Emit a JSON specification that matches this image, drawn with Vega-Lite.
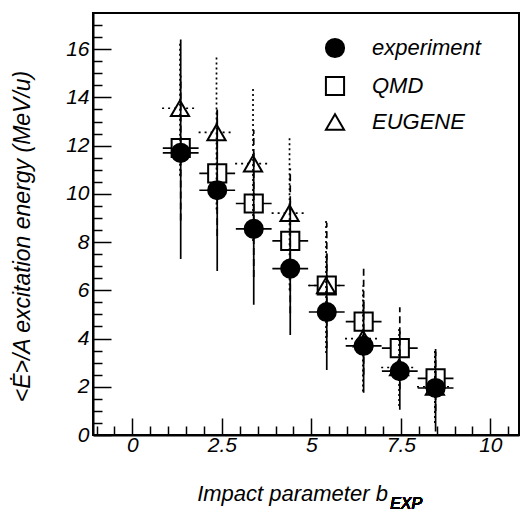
{
  "$schema": "https://vega.github.io/schema/vega-lite/v6.json",
  "width": 426,
  "height": 422,
  "autosize": "none",
  "padding": {"left": 93, "top": 13, "right": 4, "bottom": 82},
  "background": "white",
  "config": {
    "view": {"stroke": "black", "strokeWidth": 2},
    "font": "Liberation Sans",
    "axis": {
      "labelOverlap": false, "labelFlush": false, "grid": false,
      "labelFont": "Liberation Sans", "labelFontStyle": "italic", "labelFontSize": 21, "labelColor": "black",
      "titleFont": "Liberation Sans", "titleFontStyle": "italic", "titleFontWeight": "normal", "titleColor": "black",
      "tickColor": "black", "tickWidth": 1.5, "domainColor": "black", "domainWidth": 2
    },
    "axisX": {"labelPadding": 16, "titleFontSize": 22, "titleX": 199, "titleY": 65, "titleAlign": "center", "titleBaseline": "alphabetic"},
    "axisY": {"labelPadding": 22, "titleFontSize": 23, "titleX": -71, "titleY": 223, "titleAngle": -90, "titleAlign": "center", "titleBaseline": "middle"},
    "legend": {
      "orient": "none", "legendX": 231, "legendY": 24, "padding": 0,
      "labelFont": "Liberation Sans", "labelFontStyle": "italic", "labelFontSize": 22,
      "labelColor": "black", "labelOffset": 26, "rowPadding": 10,
      "symbolSize": 330, "symbolStrokeWidth": 2
    }
  },
  "data": {
    "values": [
      {"series": "QMD", "b": 1.35, "blo": 0.85, "bhi": 1.85, "e": 11.9, "elo": 8.9, "ehi": 14.9},
      {"series": "QMD", "b": 2.37, "blo": 1.87, "bhi": 2.87, "e": 10.85, "elo": 8.25, "ehi": 13.45},
      {"series": "QMD", "b": 3.39, "blo": 2.89, "bhi": 3.89, "e": 9.6, "elo": 6.55, "ehi": 12.65},
      {"series": "QMD", "b": 4.41, "blo": 3.91, "bhi": 4.91, "e": 8.05, "elo": 5.05, "ehi": 11.05},
      {"series": "QMD", "b": 5.43, "blo": 4.93, "bhi": 5.93, "e": 6.2, "elo": 3.6, "ehi": 8.8},
      {"series": "QMD", "b": 6.46, "blo": 5.96, "bhi": 6.96, "e": 4.7, "elo": 2.5, "ehi": 6.9},
      {"series": "QMD", "b": 7.47, "blo": 6.97, "bhi": 7.97, "e": 3.6, "elo": 1.9, "ehi": 5.3},
      {"series": "QMD", "b": 8.47, "blo": 7.97, "bhi": 8.97, "e": 2.35, "elo": 1.0, "ehi": 3.7},
      {"series": "EUGENE", "b": 1.33, "blo": 0.83, "bhi": 1.83, "e": 13.55, "elo": 10.75, "ehi": 16.35},
      {"series": "EUGENE", "b": 2.35, "blo": 1.85, "bhi": 2.85, "e": 12.55, "elo": 9.35, "ehi": 15.75},
      {"series": "EUGENE", "b": 3.37, "blo": 2.87, "bhi": 3.87, "e": 11.25, "elo": 8.05, "ehi": 14.45},
      {"series": "EUGENE", "b": 4.39, "blo": 3.89, "bhi": 4.89, "e": 9.2, "elo": 6.0, "ehi": 12.4},
      {"series": "EUGENE", "b": 5.41, "blo": 4.91, "bhi": 5.91, "e": 6.2, "elo": 3.4, "ehi": 9.0},
      {"series": "EUGENE", "b": 6.44, "blo": 5.94, "bhi": 6.94, "e": 4.0, "elo": 1.8, "ehi": 6.2},
      {"series": "EUGENE", "b": 7.45, "blo": 6.95, "bhi": 7.95, "e": 2.8, "elo": 1.2, "ehi": 4.4},
      {"series": "EUGENE", "b": 8.45, "blo": 7.95, "bhi": 8.95, "e": 2.0, "elo": 0.5, "ehi": 3.5},
      {"series": "experiment", "b": 1.35, "blo": 0.85, "bhi": 1.85, "e": 11.7, "elo": 7.3, "ehi": 16.4},
      {"series": "experiment", "b": 2.37, "blo": 1.87, "bhi": 2.87, "e": 10.15, "elo": 6.8, "ehi": 13.5},
      {"series": "experiment", "b": 3.39, "blo": 2.89, "bhi": 3.89, "e": 8.55, "elo": 5.4, "ehi": 11.7},
      {"series": "experiment", "b": 4.41, "blo": 3.91, "bhi": 4.91, "e": 6.9, "elo": 4.15, "ehi": 9.7},
      {"series": "experiment", "b": 5.43, "blo": 4.93, "bhi": 5.93, "e": 5.1, "elo": 2.7, "ehi": 7.5},
      {"series": "experiment", "b": 6.46, "blo": 5.96, "bhi": 6.96, "e": 3.7, "elo": 1.75, "ehi": 5.6},
      {"series": "experiment", "b": 7.47, "blo": 6.97, "bhi": 7.97, "e": 2.65, "elo": 1.05, "ehi": 4.3},
      {"series": "experiment", "b": 8.47, "blo": 7.97, "bhi": 8.97, "e": 1.95, "elo": 0.15, "ehi": 3.45}
    ]
  },
  "layer": [
    {
      "mark": {"type": "rule", "stroke": "black", "strokeWidth": 1.7},
      "encoding": {
        "x": {
          "field": "blo", "type": "quantitative",
          "scale": {"domain": [-1.1, 10.8], "nice": false, "zero": false},
          "axis": {
            "title": "Impact parameter b",
            "values": [-1, -0.5, 0, 0.5, 1, 1.5, 2, 2.5, 3, 3.5, 4, 4.5, 5, 5.5, 6, 6.5, 7, 7.5, 8, 8.5, 9, 9.5, 10, 10.5],
            "labelExpr": "datum.value % 2.5 === 0 ? format(datum.value, '~g') : ''",
            "labelOverlap": false,
            "tickSize": {"condition": {"test": "datum.value % 2.5 === 0", "value": -17}, "value": -9}
          }
        },
        "x2": {"field": "bhi"},
        "y": {
          "field": "e", "type": "quantitative",
          "scale": {"domain": [0, 17.5], "nice": false, "zero": false},
          "axis": {
            "title": "<Ė>/A excitation energy (MeV/u)",
            "values": [0, 0.5, 1, 1.5, 2, 2.5, 3, 3.5, 4, 4.5, 5, 5.5, 6, 6.5, 7, 7.5, 8, 8.5, 9, 9.5, 10, 10.5, 11, 11.5, 12, 12.5, 13, 13.5, 14, 14.5, 15, 15.5, 16, 16.5, 17],
            "labelExpr": "datum.value % 2 === 0 ? format(datum.value, 'd') : ''",
            "labelOverlap": false,
            "tickSize": {"condition": {"test": "datum.value % 2 === 0", "value": -18}, "value": -9}
          }
        },
        "strokeDash": {
          "condition": {"test": "datum.series === 'EUGENE'", "value": [2, 4]},
          "value": [1, 0]
        }
      }
    },
    {
      "mark": {"type": "point", "filled": true, "strokeWidth": 2, "opacity": 1, "size": 330},
      "encoding": {
        "x": {
          "field": "b", "type": "quantitative",
          "axis": {
            "title": "Impact parameter b",
            "values": [-1, -0.5, 0, 0.5, 1, 1.5, 2, 2.5, 3, 3.5, 4, 4.5, 5, 5.5, 6, 6.5, 7, 7.5, 8, 8.5, 9, 9.5, 10, 10.5],
            "labelExpr": "datum.value % 2.5 === 0 ? format(datum.value, '~g') : ''",
            "labelOverlap": false,
            "tickSize": {"condition": {"test": "datum.value % 2.5 === 0", "value": -17}, "value": -9}
          }
        },
        "y": {
          "field": "e", "type": "quantitative",
          "axis": {
            "title": "<Ė>/A excitation energy (MeV/u)",
            "values": [0, 0.5, 1, 1.5, 2, 2.5, 3, 3.5, 4, 4.5, 5, 5.5, 6, 6.5, 7, 7.5, 8, 8.5, 9, 9.5, 10, 10.5, 11, 11.5, 12, 12.5, 13, 13.5, 14, 14.5, 15, 15.5, 16, 16.5, 17],
            "labelExpr": "datum.value % 2 === 0 ? format(datum.value, 'd') : ''",
            "labelOverlap": false,
            "tickSize": {"condition": {"test": "datum.value % 2 === 0", "value": -18}, "value": -9}
          }
        },
        "shape": {
          "field": "series", "type": "nominal",
          "scale": {"domain": ["experiment", "QMD", "EUGENE"], "range": ["circle", "square", "triangle-up"]},
          "legend": {"title": null}
        },
        "fill": {
          "field": "series", "type": "nominal",
          "scale": {"domain": ["experiment", "QMD", "EUGENE"], "range": ["black", "white", "white"]},
          "legend": {"title": null}
        },
        "stroke": {
          "field": "series", "type": "nominal",
          "scale": {"domain": ["experiment", "QMD", "EUGENE"], "range": ["black", "black", "black"]},
          "legend": {"title": null}
        }
      }
    },
    {
      "mark": {"type": "rule", "stroke": "black", "strokeWidth": 1.7},
      "encoding": {
        "x": {
          "field": "b", "type": "quantitative",
          "axis": {
            "title": "Impact parameter b",
            "values": [-1, -0.5, 0, 0.5, 1, 1.5, 2, 2.5, 3, 3.5, 4, 4.5, 5, 5.5, 6, 6.5, 7, 7.5, 8, 8.5, 9, 9.5, 10, 10.5],
            "labelExpr": "datum.value % 2.5 === 0 ? format(datum.value, '~g') : ''",
            "labelOverlap": false,
            "tickSize": {"condition": {"test": "datum.value % 2.5 === 0", "value": -17}, "value": -9}
          }
        },
        "y": {
          "field": "elo", "type": "quantitative",
          "axis": {
            "title": "<Ė>/A excitation energy (MeV/u)",
            "values": [0, 0.5, 1, 1.5, 2, 2.5, 3, 3.5, 4, 4.5, 5, 5.5, 6, 6.5, 7, 7.5, 8, 8.5, 9, 9.5, 10, 10.5, 11, 11.5, 12, 12.5, 13, 13.5, 14, 14.5, 15, 15.5, 16, 16.5, 17],
            "labelExpr": "datum.value % 2 === 0 ? format(datum.value, 'd') : ''",
            "labelOverlap": false,
            "tickSize": {"condition": {"test": "datum.value % 2 === 0", "value": -18}, "value": -9}
          }
        },
        "y2": {"field": "ehi"},
        "strokeDash": {
          "condition": [
            {"test": "datum.series === 'QMD'", "value": [7, 4]},
            {"test": "datum.series === 'EUGENE'", "value": [2, 3]}
          ],
          "value": [1, 0]
        }
      }
    },
    {
      "mark": {"type": "text", "text": "EXP", "font": "Liberation Sans", "fontStyle": "italic", "fontSize": 16, "align": "left", "baseline": "alphabetic", "color": "black"},
      "encoding": {
        "x": {
          "datum": 7.2, "type": "quantitative",
          "axis": {
            "title": "Impact parameter b",
            "values": [-1, -0.5, 0, 0.5, 1, 1.5, 2, 2.5, 3, 3.5, 4, 4.5, 5, 5.5, 6, 6.5, 7, 7.5, 8, 8.5, 9, 9.5, 10, 10.5],
            "labelExpr": "datum.value % 2.5 === 0 ? format(datum.value, '~g') : ''",
            "labelOverlap": false,
            "tickSize": {"condition": {"test": "datum.value % 2.5 === 0", "value": -17}, "value": -9}
          }
        },
        "y": {
          "datum": -3.05, "type": "quantitative",
          "axis": {
            "title": "<Ė>/A excitation energy (MeV/u)",
            "values": [0, 0.5, 1, 1.5, 2, 2.5, 3, 3.5, 4, 4.5, 5, 5.5, 6, 6.5, 7, 7.5, 8, 8.5, 9, 9.5, 10, 10.5, 11, 11.5, 12, 12.5, 13, 13.5, 14, 14.5, 15, 15.5, 16, 16.5, 17],
            "labelExpr": "datum.value % 2 === 0 ? format(datum.value, 'd') : ''",
            "labelOverlap": false,
            "tickSize": {"condition": {"test": "datum.value % 2 === 0", "value": -18}, "value": -9}
          }
        }
      }
    }
  ]
}
